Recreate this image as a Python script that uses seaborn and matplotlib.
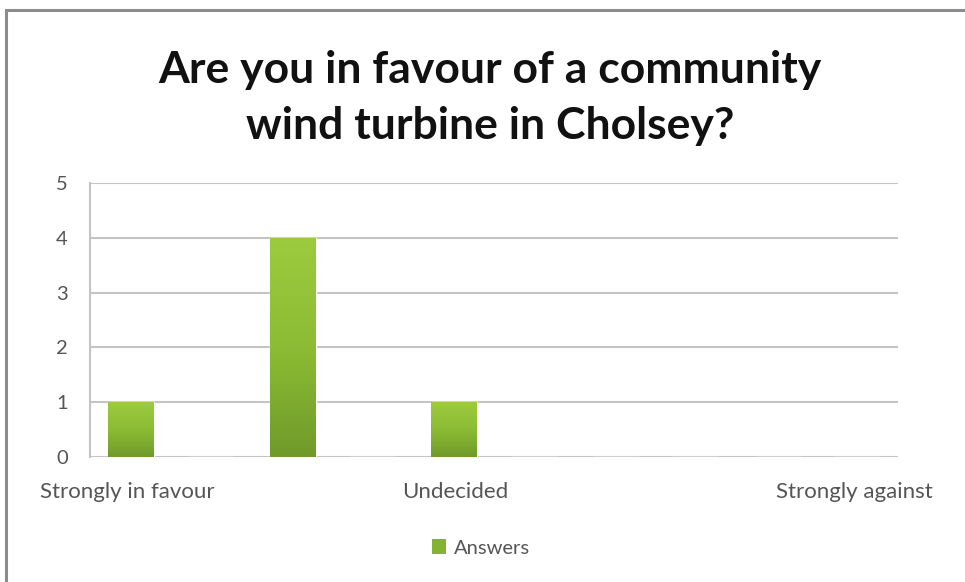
import matplotlib
matplotlib.use("Agg")
import matplotlib.pyplot as plt
import seaborn as sns
import numpy as np
import pandas as pd
from matplotlib.patches import Rectangle, Patch
from matplotlib.colors import LinearSegmentedColormap

# ---- data ----
categories = ["Strongly in favour", "In favour", "Undecided", "Against", "Strongly against"]
answers = [1, 4, 1, 0, 0]
shown_labels = ["Strongly in favour", "Undecided", "Strongly against"]
series_name = "Answers"
title = "Are you in favour of a community\nwind turbine in Cholsey?"

df = pd.DataFrame({
    "category": categories + categories,
    "value": answers + [0] * len(categories),
    "series": [series_name] * len(categories) + [" "] * len(categories),
})

sns.set_theme(style="white")
plt.rcParams["font.family"] = ["Lato", "DejaVu Sans"]

fig = plt.figure(figsize=(9.65, 5.82), dpi=100)
fig.patch.set_facecolor("white")

# outer frame like the screenshot border
fig.add_artist(Rectangle((6 / 965, -0.05), 1.2, 1 - 10 / 582 + 0.05,
                         transform=fig.transFigure, fill=False,
                         edgecolor="#8c8c8c", linewidth=2.2))

ax = fig.add_axes([90 / 965, 1 - 457 / 582, (898 - 90) / 965, (457 - 183) / 582])

green = "#84b232"
sns.barplot(data=df, x="category", y="value", hue="series", order=categories,
            hue_order=[series_name, " "], palette=[green, green],
            width=0.98, gap=0.42, dodge=True, legend=False, ax=ax, zorder=3)

# gradient fill on bars
cmap = LinearSegmentedColormap.from_list("g", ["#6f9a2a", "#8cbc34", "#9ccb3e"])
grad = np.linspace(0, 1, 256).reshape(-1, 1)
for p in list(ax.patches):
    h = p.get_height()
    if h <= 0:
        continue
    x0 = p.get_x()
    w = p.get_width()
    im = ax.imshow(grad, cmap=cmap, aspect="auto", origin="lower",
                   extent=[x0, x0 + w, 0, h], zorder=3.5)
    im.set_clip_path(p)

ax.set_xlim(-0.5, len(categories) - 0.5)
ax.set_ylim(0, 5)
ax.set_yticks([0, 1, 2, 3, 4, 5])
ax.yaxis.grid(True, color="#c4c4c4", linewidth=1.5, zorder=0)
ax.set_axisbelow(True)

for s in ["top", "right", "bottom"]:
    ax.spines[s].set_visible(False)
ax.spines["left"].set_color("#c4c4c4")
ax.spines["left"].set_linewidth(1.5)

ax.set_xticks([-0.27, 1.76, 4.23])
ax.set_xticklabels(shown_labels)
ax.tick_params(axis="x", length=0, pad=18, labelsize=16, labelcolor="#555555")
ax.tick_params(axis="y", length=0, pad=16, labelsize=14.5, labelcolor="#555555")
ax.set_xlabel("")
ax.set_ylabel("")

fig.text(490 / 965, 1 - 98 / 582, title, ha="center", va="center",
         fontsize=32, fontweight="bold", color="#111111", linespacing=1.5)

# legend
fig.legend(handles=[Patch(facecolor=green, edgecolor="none", label=series_name)],
           loc="center", bbox_to_anchor=(481 / 965, 1 - 548 / 582), frameon=False,
           fontsize=14.5, handlelength=0.7, handleheight=0.7, handletextpad=0.4,
           labelcolor="#555555")

fig.savefig("out.png", dpi=100, facecolor="white")
